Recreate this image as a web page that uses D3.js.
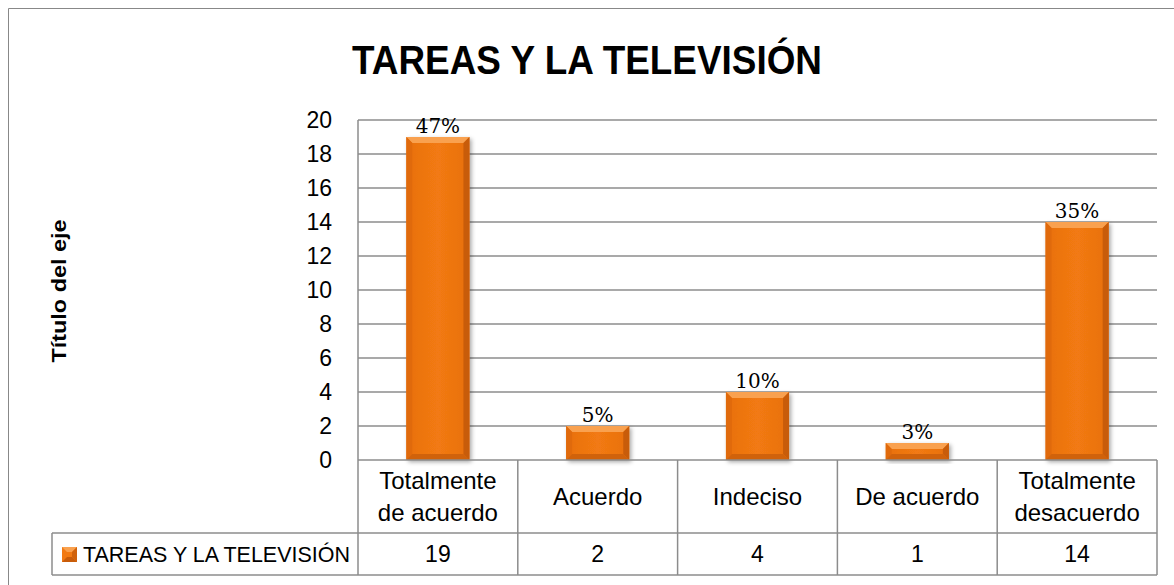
<!DOCTYPE html>
<html>
<head>
<meta charset="utf-8">
<script src="https://cdn.jsdelivr.net/npm/d3@7"></script>
<style>
	body { margin: 0; background: #fff; }
	svg { display: block; }
</style>
</head>
<body>
<div id="chart"></div>
<script>
"use strict";

//  Data
const chartTitle = 'TAREAS Y LA TELEVISIÓN';
const seriesName = 'TAREAS Y LA TELEVISIÓN';
const axisTitle = 'Título del eje';
const categories = [['Totalmente', 'de acuerdo'], ['Acuerdo'], ['Indeciso'], ['De acuerdo'], ['Totalmente', 'desacuerdo']];
const counts = [19, 2, 4, 1, 14];
const percentLabels = ['47%', '5%', '10%', '3%', '35%'];
const yTicks = [0, 2, 4, 6, 8, 10, 12, 14, 16, 18, 20];

const width = 1174, height = 585;
const plot = { left: 358, right: 1157, top: 120, bottom: 460 };
const tableRow1 = 533, tableRow2 = 575, legendLeft = 52;
const lineColor = '#8c8c8c';
const sans = '"Liberation Sans", Arial, sans-serif';

let svg = d3.select('#chart').append('svg')
	.attr('width', width)
	.attr('height', height);

let defs = svg.append('defs');

defs.append('filter')
	.attr('id', 'shadow')
	.attr('x', '-20%').attr('y', '-20%').attr('width', '140%').attr('height', '140%')
	.append('feDropShadow')
		.attr('dx', 2).attr('dy', 2).attr('stdDeviation', 2)
		.attr('flood-color', '#000').attr('flood-opacity', 0.35);

let grad = defs.append('linearGradient').attr('id', 'barFill').attr('x1', 0).attr('x2', 1).attr('y1', 0).attr('y2', 0);
grad.append('stop').attr('offset', '0%').attr('stop-color', '#e8700f');
grad.append('stop').attr('offset', '50%').attr('stop-color', '#f27a12');
grad.append('stop').attr('offset', '100%').attr('stop-color', '#e8700f');

//  Outer chart border
svg.append('path')
	.attr('d', `M8.5,${height} V8.5 H${width}`)
	.attr('fill', 'none')
	.attr('stroke', '#888')
	.attr('stroke-width', 1);

//  Title
svg.append('text')
	.attr('x', 587)
	.attr('y', 74)
	.attr('text-anchor', 'middle')
	.attr('font-family', sans)
	.attr('font-weight', 'bold')
	.attr('font-size', 41)
	.attr('textLength', 470)
	.attr('lengthAdjust', 'spacingAndGlyphs')
	.text(chartTitle);

//  Scales
let x = d3.scaleBand()
	.domain(d3.range(categories.length))
	.range([plot.left, plot.right]);

let y = d3.scaleLinear()
	.domain([0, 20])
	.range([plot.bottom, plot.top]);

//  Grid lines
svg.append('g')
	.selectAll('line')
	.data(yTicks.filter(t => t > 0))
	.join('line')
		.attr('x1', plot.left).attr('x2', plot.right)
		.attr('y1', d => y(d)).attr('y2', d => y(d))
		.attr('stroke', lineColor)
		.attr('stroke-width', 1.5);

//  Y axis
let yAxis = svg.append('g')
	.attr('transform', `translate(${plot.left},0)`)
	.call(d3.axisLeft(y).tickValues(yTicks).tickSize(0).tickPadding(26));
yAxis.select('.domain').remove();
yAxis.selectAll('text')
	.attr('font-family', sans)
	.attr('font-size', 23)
	.attr('fill', '#000');

svg.append('text')
	.attr('transform', `translate(66,291) rotate(-90)`)
	.attr('text-anchor', 'middle')
	.attr('font-family', sans)
	.attr('font-weight', 'bold')
	.attr('font-size', 21)
	.attr('textLength', 143)
	.attr('lengthAdjust', 'spacingAndGlyphs')
	.text(axisTitle);

//  Bars
const barWidth = x.bandwidth() * 0.395;
const bevel = 6;

let bar = svg.append('g')
	.selectAll('g')
	.data(counts)
	.join('g')
		.attr('transform', (d, i) => `translate(${x(i) + (x.bandwidth() - barWidth) / 2},${y(d)})`);

bar.append('rect')
	.attr('width', barWidth)
	.attr('height', d => plot.bottom - y(d))
	.attr('fill', 'url(#barFill)')
	.attr('filter', 'url(#shadow)');

// bevel edges
bar.append('path')
	.attr('d', d => { const h = plot.bottom - y(d), b = Math.min(bevel, h / 2);
		return `M0,0 H${barWidth} L${barWidth - b},${b} H${b} Z`; })
	.attr('fill', '#f9a14f');
bar.append('path')
	.attr('d', d => { const h = plot.bottom - y(d), b = Math.min(bevel, h / 2);
		return `M0,0 L${b},${b} V${h - b} L0,${h} Z`; })
	.attr('fill', '#e06a0c');
bar.append('path')
	.attr('d', d => { const h = plot.bottom - y(d), b = Math.min(bevel, h / 2);
		return `M${barWidth},0 L${barWidth - b},${b} V${h - b} L${barWidth},${h} Z`; })
	.attr('fill', '#c85c0a');
bar.append('path')
	.attr('d', d => { const h = plot.bottom - y(d), b = Math.min(bevel, h / 2);
		return `M0,${h} L${b},${h - b} H${barWidth - b} L${barWidth},${h} Z`; })
	.attr('fill', '#d0620b');

//  Data labels
svg.append('g')
	.selectAll('text')
	.data(counts)
	.join('text')
		.attr('x', (d, i) => x(i) + x.bandwidth() / 2)
		.attr('y', d => y(d) - 4)
		.attr('text-anchor', 'middle')
		.attr('font-family', '"DejaVu Serif", "Liberation Serif", serif')
		.attr('font-size', 20)
		.text((d, i) => percentLabels[i]);

//  Data table
let table = svg.append('g')
	.attr('stroke', lineColor)
	.attr('stroke-width', 1.5);

table.append('line')
	.attr('x1', plot.left).attr('x2', plot.left)
	.attr('y1', plot.top).attr('y2', tableRow2);
table.append('line')
	.attr('x1', plot.left).attr('x2', plot.right)
	.attr('y1', plot.bottom).attr('y2', plot.bottom);
[tableRow1, tableRow2].forEach(ty =>
	table.append('line')
		.attr('x1', legendLeft).attr('x2', plot.right)
		.attr('y1', ty).attr('y2', ty));
table.append('line')
	.attr('x1', legendLeft).attr('x2', legendLeft)
	.attr('y1', tableRow1).attr('y2', tableRow2);
table.selectAll('.sep')
	.data(d3.range(1, categories.length + 1))
	.join('line')
		.attr('x1', i => i < categories.length ? x(i) : plot.right)
		.attr('x2', i => i < categories.length ? x(i) : plot.right)
		.attr('y1', plot.bottom).attr('y2', tableRow2);

//  Category labels
let catLabel = svg.append('g')
	.selectAll('text')
	.data(categories)
	.join('text')
		.attr('text-anchor', 'middle')
		.attr('font-family', sans)
		.attr('font-size', 24)
		.attr('transform', (d, i) => `translate(${x(i) + x.bandwidth() / 2},${(plot.bottom + tableRow1) / 2})`);

catLabel.selectAll('tspan')
	.data(d => d.map((t, j) => ({ t, j, n: d.length })))
	.join('tspan')
		.attr('x', 0)
		.attr('y', d => (d.j - (d.n - 1) / 2) * 32)
		.attr('dy', '0.36em')
		.text(d => d.t);

//  Values row
svg.append('g')
	.selectAll('text')
	.data(counts)
	.join('text')
		.attr('x', (d, i) => x(i) + x.bandwidth() / 2)
		.attr('y', (tableRow1 + tableRow2) / 2)
		.attr('dy', '0.36em')
		.attr('text-anchor', 'middle')
		.attr('font-family', sans)
		.attr('font-size', 23)
		.text(d => d);

//  Legend key
let key = svg.append('g').attr('transform', `translate(62,${(tableRow1 + tableRow2) / 2 - 7})`);
key.append('rect').attr('width', 15).attr('height', 15).attr('fill', '#f27a12');
key.append('path').attr('d', 'M0,0 H15 L10,5 H5 Z').attr('fill', '#f9a14f');
key.append('path').attr('d', 'M0,15 H15 L10,10 H5 Z').attr('fill', '#c85c0a');
key.append('path').attr('d', 'M15,0 V15 L10,10 V5 Z').attr('fill', '#d0620b');

svg.append('text')
	.attr('x', 83)
	.attr('y', (tableRow1 + tableRow2) / 2)
	.attr('dy', '0.36em')
	.attr('font-family', sans)
	.attr('font-size', 21.5)
	.attr('textLength', 267)
	.attr('lengthAdjust', 'spacingAndGlyphs')
	.text(seriesName);
</script>
</body>
</html>
